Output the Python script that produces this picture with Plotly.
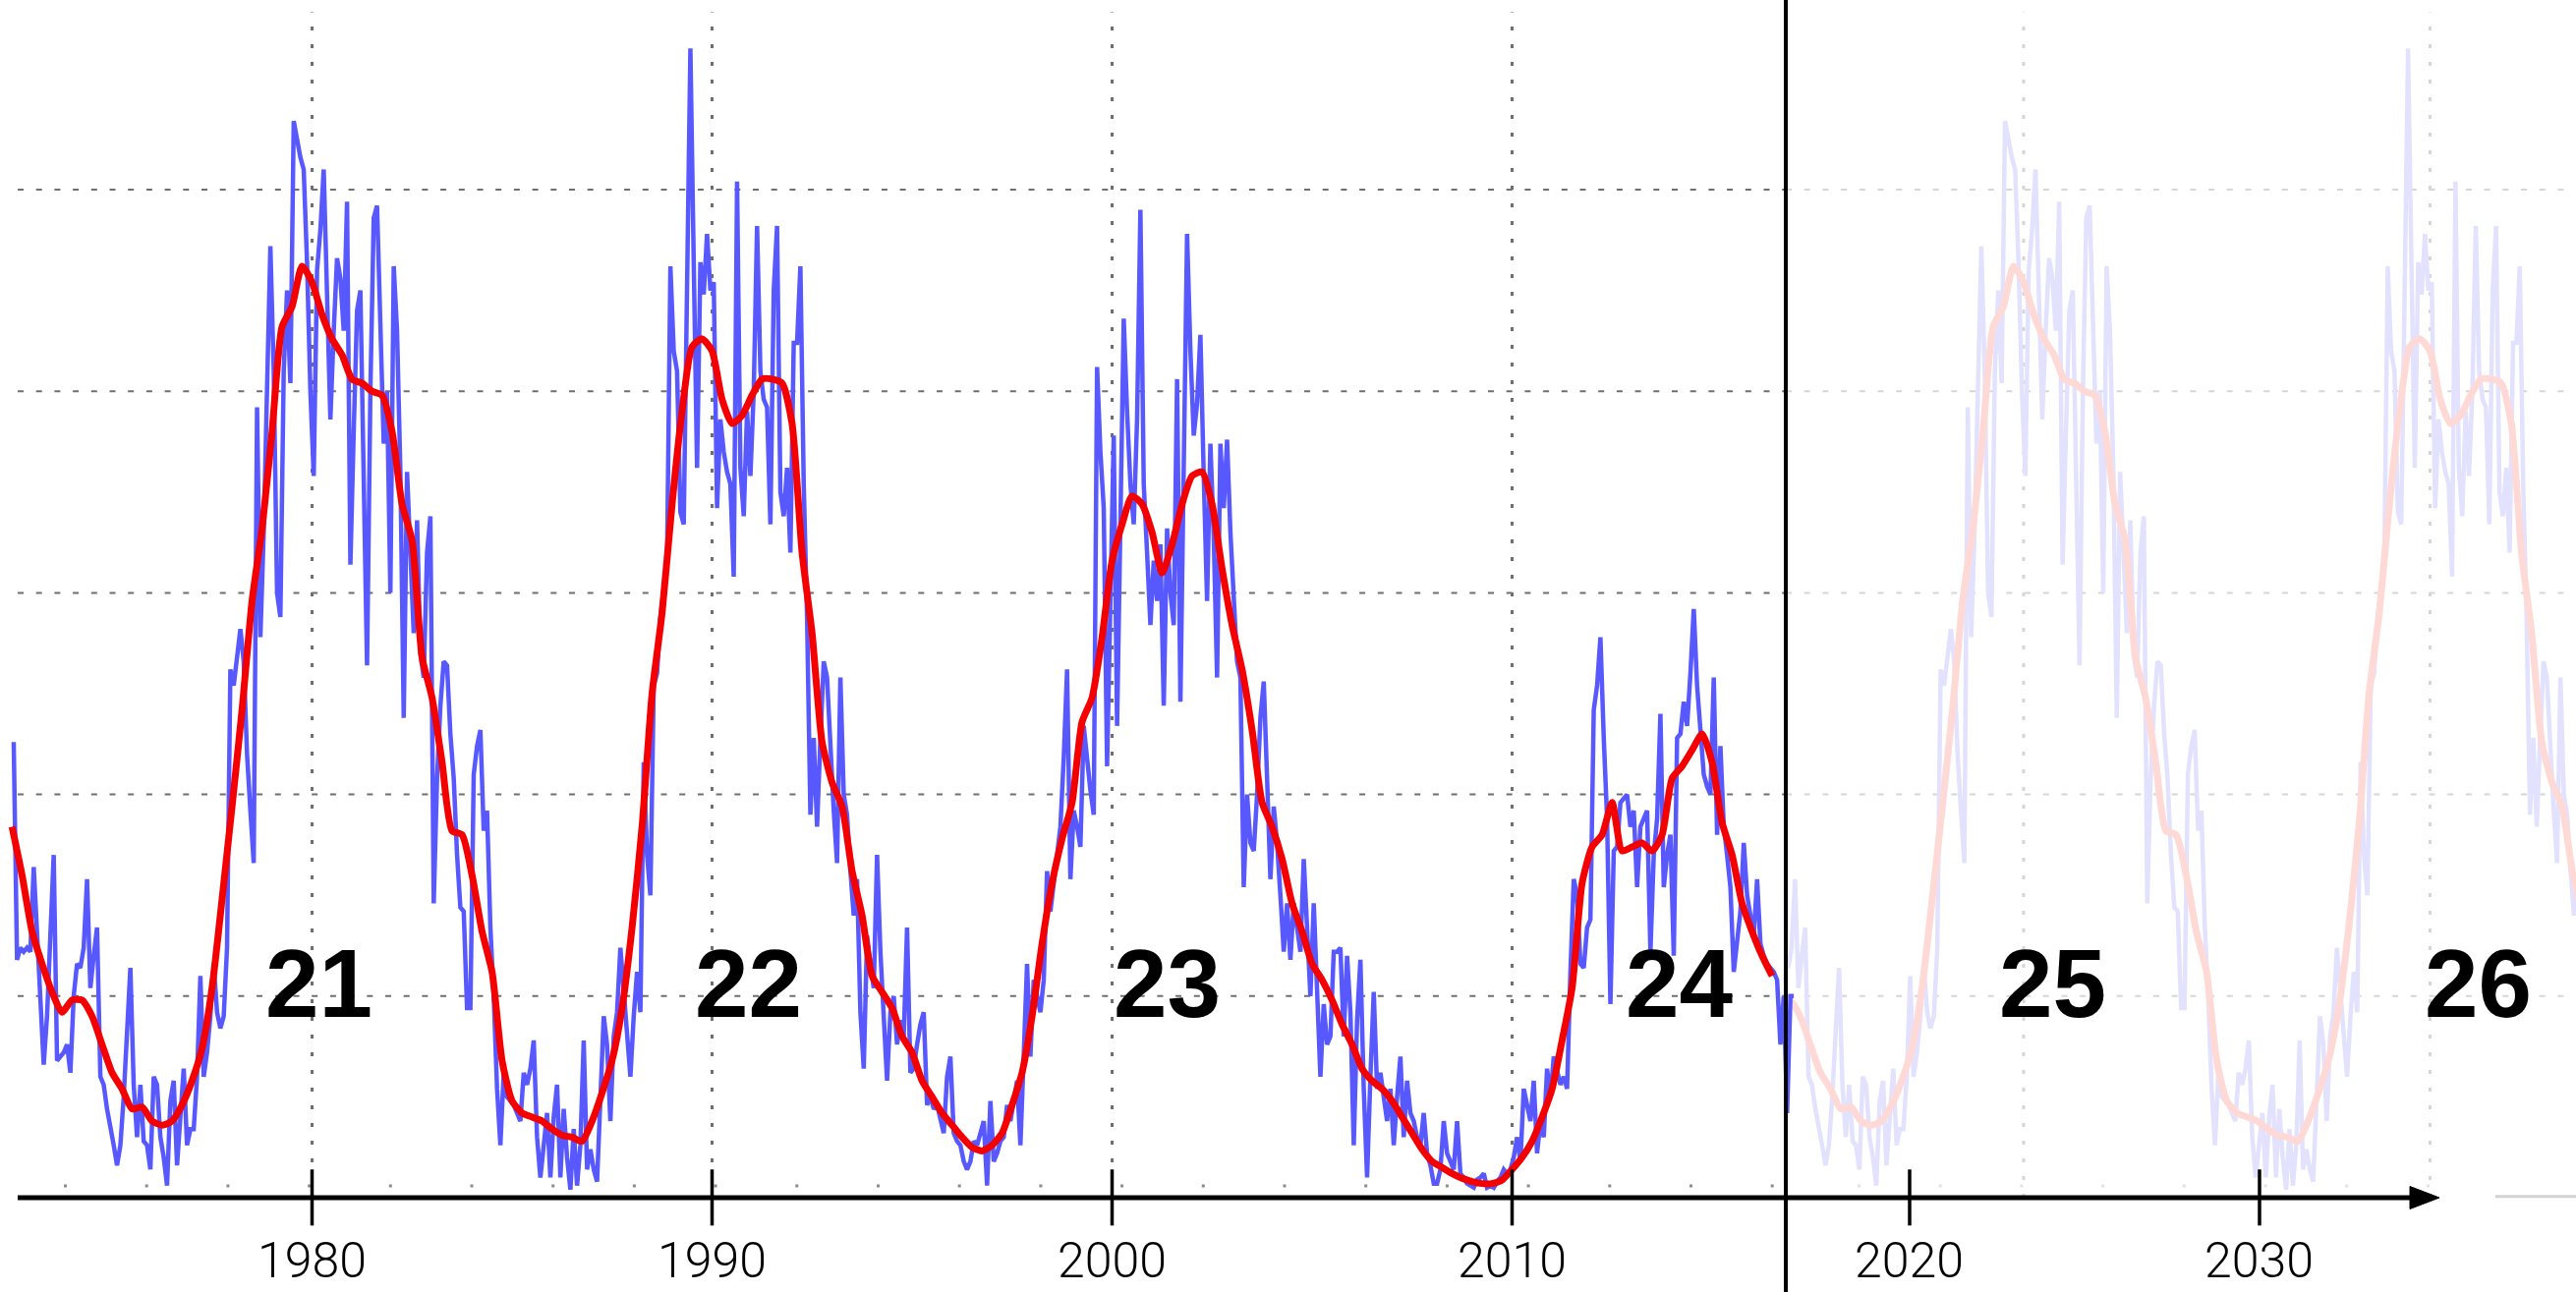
import numpy as np
import plotly.graph_objects as go

# ---------------------------------------------------------------------------
# Monthly mean total sunspot number (one value per month, from July 1972)
# ---------------------------------------------------------------------------
MONTHLY_START_YEAR = 1972
MONTHLY_START_MONTH = 7
monthly_sunspots = [
    113, 59, 62, 61, 62, 61,                                          # 1972 (Jul-Dec)
    82, 66, 48, 33, 45, 68, 85, 34, 35, 36, 38, 31,                   # 1973
    50, 58, 57, 62, 79, 52, 60, 67, 30, 28, 22, 18,                   # 1974
    13, 8, 13, 25, 40, 57, 28, 15, 28, 14, 13, 7,                     # 1975
    30, 28, 15, 10, 3, 24, 29, 8, 20, 32, 13, 17,                     # 1976
    17, 30, 55, 30, 36, 45, 58, 46, 42, 45, 62, 131,                  # 1977
    127, 135, 141, 133, 110, 96, 83, 196, 139, 165, 200, 236,         # 1978
    205, 150, 144, 205, 225, 202, 267, 262, 258, 255, 232, 200,       # 1979
    179, 230, 240, 255, 220, 193, 215, 233, 228, 215, 247, 157,       # 1980
    190, 220, 225, 180, 132, 200, 243, 246, 215, 187, 200, 150,       # 1981
    231, 215, 180, 119, 180, 160, 140, 168, 135, 129, 160, 169,       # 1982
    73, 104, 122, 133, 132, 115, 104, 85, 72, 71, 47, 47,             # 1983
    105, 112, 116, 91, 96, 67, 50, 27, 13, 31, 25, 24,                # 1984
    23, 21, 19, 31, 28, 32, 39, 15, 5, 13, 21, 5,                     # 1985
    20, 28, 5, 22, 10, 2, 17, 3, 13, 39, 7, 12,                       # 1986
    7, 4, 25, 45, 38, 19, 40, 46, 62, 52, 40, 30,                     # 1987
    45, 56, 46, 108, 85, 75, 127, 130, 144, 150, 158, 231,            # 1988
    210, 205, 170, 167, 225, 285, 232, 181, 232, 224, 239, 225,       # 1989
    227, 171, 193, 185, 180, 177, 154, 252, 181, 169, 195, 179,       # 1990
    200, 241, 205, 198, 196, 167, 225, 241, 175, 169, 181, 160,       # 1991
    212, 212, 231, 177, 144, 95, 114, 92, 114, 133, 129, 110,         # 1992
    96, 83, 129, 100, 95, 81, 70, 79, 46, 32, 65, 58,                 # 1993
    52, 85, 61, 45, 29, 46, 50, 38, 44, 40, 67, 31,                   # 1994
    32, 38, 43, 46, 23, 25, 22, 23, 20, 16, 30, 35,                   # 1995
    16, 14, 13, 9, 7, 9, 14, 13, 16, 19, 3, 24,                       # 1996
    9, 11, 14, 15, 23, 19, 24, 29, 13, 35, 58, 35,                    # 1997
    54, 50, 46, 54, 81, 71, 78, 85, 92, 109, 131, 79,                 # 1998
    96, 92, 87, 117, 108, 101, 95, 206, 185, 171, 107, 145,           # 1999
    189, 117, 173, 218, 195, 177, 167, 193, 245, 177, 160, 142,       # 2000
    158, 148, 162, 122, 166, 150, 142, 203, 123, 181, 239, 210,       # 2001
    189, 197, 214, 179, 148, 187, 164, 129, 187, 171, 188, 165,       # 2002
    146, 133, 129, 77, 100, 88, 86, 100, 119, 128, 104, 79,           # 2003
    97, 88, 75, 61, 73, 59, 73, 66, 61, 84, 65, 50,                   # 2004
    73, 50, 30, 48, 38, 40, 61, 61, 62, 40, 60, 46,                   # 2005
    13, 44, 59, 27, 5, 30, 51, 27, 31, 25, 19, 27,                    # 2006
    13, 25, 35, 15, 29, 21, 19, 15, 13, 21, 11, 8,                    # 2007
    3.5, 3.5, 7, 19, 11, 9, 7, 19, 6, 5, 3.5, 3,                      # 2008
    2.5, 4.5, 5, 6, 2.5, 3, 2.5, 4, 5, 7, 6, 7,                       # 2009
    10, 15, 9, 27, 23, 19, 29, 11, 19, 15, 32, 25,                    # 2010
    35, 32, 28, 30, 27, 56, 79, 75, 58, 57, 67, 69,                   # 2011
    121, 127, 139, 114, 94, 48, 86, 87, 98, 99, 100, 92,              # 2012
    96, 77, 92, 94, 96, 61, 85, 94, 120, 77, 85, 90,                  # 2013
    60, 114, 115, 123, 117, 130, 146, 127, 114, 105, 102, 100,        # 2014
    129, 90, 112, 92, 85, 77, 56, 65, 71, 88, 75, 70,                 # 2015
    65, 79, 63, 60, 58, 57, 56, 54, 38, 50, 21, 50,                   # 2016
    50,                                                               # 2017 (Jan)
]

# ---------------------------------------------------------------------------
# 13-month smoothed sunspot number, quarterly samples from 1972.5
# ---------------------------------------------------------------------------
SMOOTHED_START = 1972.5
SMOOTHED_STEP = 0.25
smoothed_sunspots = [
    92, 80,                 # 1972.50, 1972.75
    66, 58, 51, 46,         # 1973
    49, 49, 45, 38,         # 1974
    31, 27, 22, 22.5,       # 1975
    19, 18, 19, 23,         # 1976
    29, 37, 52, 74,         # 1977
    97, 121, 148, 166,      # 1978
    190, 216, 221, 231,     # 1979
    227, 219, 213, 209,     # 1980
    203, 202, 200, 199,     # 1981
    190, 172, 163, 134,     # 1982
    124, 108, 91, 90,       # 1983
    80, 66, 56, 34,         # 1984
    24, 21, 20, 19,         # 1985
    17, 15.5, 15, 14,       # 1986
    19, 26, 34, 47,         # 1987
    67, 92, 125, 145,       # 1988
    172, 195, 211, 213,     # 1989
    210, 198, 192, 194,     # 1990
    199, 203, 203, 202,     # 1991
    192, 160, 140, 113,     # 1992
    103, 97, 81, 70,        # 1993
    55, 51, 47, 40,         # 1994
    36, 29, 25, 21,         # 1995
    18, 15, 12.5, 11.6,     # 1996
    13, 16, 23, 31,         # 1997
    45, 63, 78, 89,         # 1998
    98, 118, 124, 139,      # 1999
    158, 167, 174, 172,     # 2000
    165, 155, 162, 172,     # 2001
    179, 180, 172, 156,     # 2002
    142, 131, 116, 98,      # 2003
    92, 84, 73, 66,         # 2004
    58, 54, 49, 43,         # 2005
    38, 32, 29, 27,         # 2006
    24, 20, 16, 12,         # 2007
    9, 7.5, 6, 4.8,         # 2008
    4, 3.5, 3.5, 4.4,       # 2009
    7, 10, 14, 20,          # 2010
    27, 39, 52, 78,         # 2011
    87, 90, 98, 86,         # 2012
    87, 88, 86, 90,         # 2013
    104, 107, 111, 115,     # 2014
    108, 93, 85, 73,        # 2015
    66, 60, 55,             # 2016.00 - 2016.50
]

# Solar cycle numbers written on the chart
cycle_names = ["21", "22", "23", "24", "25", "26"]
# Horizontal grid levels (sunspot number)
grid_levels = [50, 100, 150, 200, 250]
# Decade ticks of the observed record and of the projection
observed_ticks = [1980, 1990, 2000, 2010]
projected_ticks = [2020, 2030]
# Decade grid lines carried by the repeated (projected) pattern
repeated_grid_years = [1980, 1990]

# ---------------------------------------------------------------------------
# Time coordinates
# ---------------------------------------------------------------------------
month_index = np.arange(len(monthly_sunspots))
monthly_t = MONTHLY_START_YEAR + (MONTHLY_START_MONTH - 1 + month_index + 0.5) / 12.0
smoothed_t = SMOOTHED_START + SMOOTHED_STEP * np.arange(len(smoothed_sunspots))

# ---------------------------------------------------------------------------
# Geometry
# ---------------------------------------------------------------------------
W, H = 2621, 1315
split = 1817 / W                     # where the projection begins
left_edge = 18 / W

hist_range = [1972.199, 2036.597]    # observed record axis
copy_range = [1974.148, 1993.591]    # cycles 21-22 repeated as 25-26
future_range = [2016.461, 2039.045]  # calendar years for the projection
y_range = [-23.39, 297.03]

BLUE = "#5858ff"
RED = "#f40000"
BLUE_FADED = "#e2e2ff"
RED_FADED = "#ffd9d5"
GRID = "#6f6f6f"
GRID_FADED = "#d6d6d6"
BLUE_W = 4.5
RED_W = 7
SMOOTH_LINE = dict(shape="spline", smoothing=0.6)

fig = go.Figure()

# Cycles 21-22 repeated, faded, as the projected cycles 25-26
fig.add_trace(go.Scatter(x=monthly_t, y=monthly_sunspots, xaxis="x", yaxis="y",
                         mode="lines", line=dict(color=BLUE_FADED, width=BLUE_W),
                         hoverinfo="skip"))
fig.add_trace(go.Scatter(x=smoothed_t, y=smoothed_sunspots, xaxis="x", yaxis="y",
                         mode="lines",
                         line=dict(color=RED_FADED, width=RED_W, **SMOOTH_LINE),
                         hoverinfo="skip"))

# Observed record
fig.add_trace(go.Scatter(x=monthly_t, y=monthly_sunspots, xaxis="x2", yaxis="y",
                         mode="lines", line=dict(color=BLUE, width=BLUE_W),
                         hoverinfo="skip"))
fig.add_trace(go.Scatter(x=smoothed_t, y=smoothed_sunspots, xaxis="x2", yaxis="y",
                         mode="lines",
                         line=dict(color=RED, width=RED_W, **SMOOTH_LINE),
                         hoverinfo="skip"))

# Anchor trace for the projection's calendar axis
fig.add_trace(go.Scatter(x=[], y=[], xaxis="x3", yaxis="y", mode="lines",
                         hoverinfo="skip"))

shapes = []

# Horizontal dashed grid lines
for lv in grid_levels:
    shapes.append(dict(type="line", xref="paper", yref="y", x0=left_edge, x1=split,
                       y0=lv, y1=lv, layer="below",
                       line=dict(color=GRID, width=2, dash="6px,12.7px")))
    shapes.append(dict(type="line", xref="paper", yref="y", x0=split, x1=1,
                       y0=lv, y1=lv, layer="below",
                       line=dict(color=GRID_FADED, width=2, dash="6px,12.7px")))

# Vertical dotted decade lines
for yr in observed_ticks:
    shapes.append(dict(type="line", xref="x2", yref="y", x0=yr, x1=yr, y0=0, y1=294,
                       layer="below", line=dict(color=GRID, width=3, dash="4px,14px")))
for yr in repeated_grid_years:
    shapes.append(dict(type="line", xref="x", yref="y", x0=yr, x1=yr, y0=0, y1=294,
                       layer="below", line=dict(color=GRID_FADED, width=3, dash="4px,14px")))

# Sparse dotted base line just above the axis
shapes.append(dict(type="line", xref="paper", yref="y", x0=65 / W, x1=split,
                   y0=2.9, y1=2.9, layer="below",
                   line=dict(color="#8c8c8c", width=3, dash="3px,79.7px")))
shapes.append(dict(type="line", xref="paper", yref="y", x0=1890 / W, x1=2475 / W,
                   y0=2.9, y1=2.9, layer="below",
                   line=dict(color="#e2e2e2", width=3, dash="3px,79.7px")))

# Faint axis remnant past the arrow head
shapes.append(dict(type="line", xref="paper", yref="y", x0=2539 / W, x1=1,
                   y0=0.3, y1=0.3, layer="below",
                   line=dict(color="#d3d3d3", width=3)))

# Time axis with arrow head
shapes.append(dict(type="line", xref="paper", yref="y", x0=left_edge, x1=2462 / W,
                   y0=0, y1=0, layer="above", line=dict(color="black", width=5)))
ax_y = (H - 1219) / H
half_h = 11.5 / H
shapes.append(dict(type="path", xref="paper", yref="paper", layer="above",
                   path=(f"M {2452 / W},{ax_y + half_h} L {2482 / W},{ax_y} "
                         f"L {2452 / W},{ax_y - half_h} Z"),
                   fillcolor="black", line=dict(color="black", width=1)))

# Tick marks crossing the axis
for yr in observed_ticks:
    shapes.append(dict(type="line", xref="x2", yref="y", x0=yr, x1=yr, y0=-6.9, y1=7.0,
                       layer="above", line=dict(color="black", width=3.5)))
for yr in projected_ticks:
    shapes.append(dict(type="line", xref="x3", yref="y", x0=yr, x1=yr, y0=-6.9, y1=7.0,
                       layer="above", line=dict(color="black", width=3.5)))

# Separator between the observed record and the projection
shapes.append(dict(type="line", xref="paper", yref="paper", x0=split, x1=split,
                   y0=0, y1=1, layer="above", line=dict(color="black", width=4)))

annotations = []
tick_font = dict(family="Roboto", size=50, color="black", weight=300)
TICK_LABEL_Y = -15.6
for yr in observed_ticks:
    annotations.append(dict(x=yr, y=TICK_LABEL_Y, xref="x2", yref="y", text=str(yr),
                            showarrow=False, font=tick_font, borderpad=0,
                            xanchor="center", yanchor="middle"))
for yr in projected_ticks:
    annotations.append(dict(x=yr, y=TICK_LABEL_Y, xref="x3", yref="y", text=str(yr),
                            showarrow=False, font=tick_font, borderpad=0,
                            xanchor="center", yanchor="middle"))

# Cycle numbers: observed ones on the record axis, projected on the calendar axis
label_font = dict(family="Liberation Sans", size=98, color="black", weight="bold")
cycle_label_pos = [("x2", 1980.18), ("x2", 1990.9), ("x2", 2001.37), ("x2", 2014.17),
                   ("x3", 2024.1), ("x3", 2036.26)]
for name, (ref, xpos) in zip(cycle_names, cycle_label_pos):
    annotations.append(dict(x=xpos, y=53.1, xref=ref, yref="y", text=f"<b>{name}</b>",
                            showarrow=False, font=label_font,
                            xanchor="center", yanchor="middle"))

axis_common = dict(visible=False, fixedrange=True, anchor="y")
fig.update_layout(
    width=W, height=H, autosize=False,
    margin=dict(l=0, r=0, t=0, b=0, pad=0),
    paper_bgcolor="white", plot_bgcolor="rgba(0,0,0,0)",
    showlegend=False, hovermode=False,
    xaxis=dict(domain=[split, 1], range=copy_range, **axis_common),
    xaxis2=dict(domain=[0, 1], range=hist_range, **axis_common),
    xaxis3=dict(domain=[split, 1], range=future_range, **axis_common),
    yaxis=dict(domain=[0, 1], range=y_range, visible=False, fixedrange=True, anchor="x"),
    shapes=shapes,
    annotations=annotations,
)

fig.write_html("out.html", config={"displayModeBar": False})
